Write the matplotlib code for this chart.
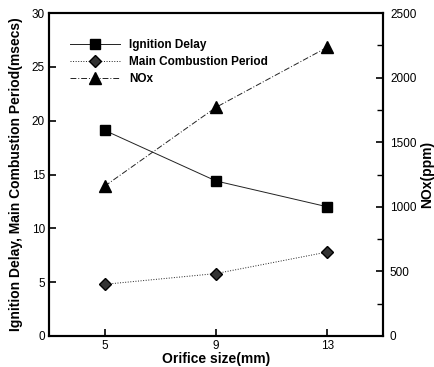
import matplotlib
matplotlib.use("Agg")
import matplotlib.pyplot as plt
from matplotlib.ticker import MultipleLocator

plt.rcParams['font.family'] = ['Liberation Sans', 'DejaVu Sans']

orifice = [5, 9, 13]
ignition_delay = [19.1, 14.4, 12.0]
main_combustion = [4.8, 5.8, 7.8]
nox = [1160, 1770, 2235]

fig = plt.figure(figsize=(4.35, 3.67), dpi=100)
ax = fig.add_axes([49/435, 1-336/367, (383-49)/435, (336-13)/367])
ax2 = ax.twinx()

l1, = ax.plot(orifice, ignition_delay, color='#222222', lw=0.7, ls='-',
              marker='s', ms=7, mfc='black', mec='black', label='Ignition Delay')
l2, = ax.plot(orifice, main_combustion, color='#222222', lw=0.7, ls=':',
              marker='D', ms=6.5, mfc='#333333', mec='black', label='Main Combustion Period')
l3, = ax2.plot(orifice, nox, color='#222222', lw=0.7, ls=(0, (6, 2, 1, 2)),
               marker='^', ms=8, mfc='black', mec='black', label='NOx')

ax.set_xlim(3, 15)
ax.set_ylim(0, 30)
ax2.set_ylim(0, 2500)
ax.set_xticks(orifice)
ax.set_yticks(range(0, 31, 5))
ax2.yaxis.set_major_locator(MultipleLocator(500))
ax2.yaxis.set_minor_locator(MultipleLocator(250))

for a in (ax, ax2):
    for s in a.spines.values():
        s.set_linewidth(1.5)
ax.tick_params(direction='in', length=5, width=1.2, labelsize=8.5, pad=3)
ax2.tick_params(axis='y', which='major', direction='in', length=5, width=1.2, labelsize=8.5, pad=5)
ax2.tick_params(axis='y', which='minor', direction='in', length=4, width=1.0)

ax.set_xlabel('Orifice size(mm)', fontsize=10, fontweight='bold', labelpad=0)
ax.set_ylabel('Ignition Delay, Main Combustion Period(msecs)', fontsize=10, fontweight='bold', labelpad=6)
ax2.set_ylabel('NOx(ppm)', fontsize=10, fontweight='bold', labelpad=3)

leg = ax.legend(handles=[l1, l2, l3], loc='upper left', bbox_to_anchor=(0.05, 0.935),
                frameon=False, fontsize=8.5, handlelength=4.2, borderaxespad=0,
                labelspacing=0.42, handletextpad=0.8)
for t in leg.get_texts():
    t.set_fontweight('bold')

fig.savefig('out.png', dpi=100)
